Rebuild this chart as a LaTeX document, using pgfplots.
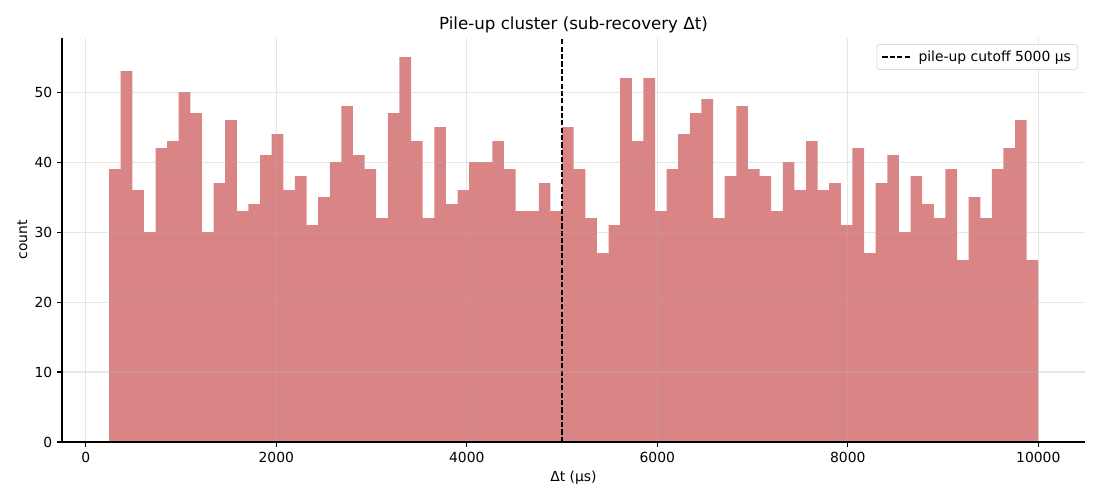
\documentclass[border=0pt]{standalone}
\usepackage{pgfplots}
\pgfplotsset{compat=1.18}
\usepackage{fontspec}
\setmainfont{DejaVu Sans}
\definecolor{barc}{RGB}{217,133,133}
\definecolor{gridc}{RGB}{176,176,176}
\pgfplotsset{linelegend/.style={legend image code/.code={\draw[##1] (0bp,0bp) -- (20bp,0bp); \path[draw=none,fill=none] (-1bp,0bp) rectangle (24bp,0bp);}}}
\pgfplotstableread{
x y
243.9 39
365.9 53
487.8 36
609.8 30
731.7 42
853.7 43
975.6 50
1097.6 47
1219.5 30
1341.5 37
1463.4 46
1585.4 33
1707.3 34
1829.3 41
1951.2 44
2073.2 36
2195.1 38
2317.1 31
2439.0 35
2561.0 40
2682.9 48
2804.9 41
2926.8 39
3048.8 32
3170.7 47
3292.7 55
3414.6 43
3536.6 32
3658.5 45
3780.5 34
3902.4 36
4024.4 40
4146.3 40
4268.3 43
4390.2 39
4512.2 33
4634.1 33
4756.1 37
4878.0 33
5000.0 45
5122.0 39
5243.9 32
5365.9 27
5487.8 31
5609.8 52
5731.7 43
5853.7 52
5975.6 33
6097.6 39
6219.5 44
6341.5 47
6463.4 49
6585.4 32
6707.3 38
6829.3 48
6951.2 39
7073.2 38
7195.1 33
7317.1 40
7439.0 36
7561.0 43
7682.9 36
7804.9 37
7926.8 31
8048.8 42
8170.7 27
8292.7 37
8414.6 41
8536.6 30
8658.5 38
8780.5 34
8902.4 32
9024.4 39
9146.3 26
9268.3 35
9390.2 32
9512.2 39
9634.1 42
9756.1 46
9878.0 26
10000.0 26
}\histdata
\begin{document}
\begin{tikzpicture}[font=\fontsize{10bp}{12bp}\selectfont]
\begin{axis}[
  scale only axis, width=736.56bp, height=290.88bp,
  xmin=-250, xmax=10490, ymin=0, ymax=57.75,
  axis x line*=bottom, axis y line*=left,
  axis line style={line width=0.8bp, black},
  axis on top,
  xtick={0,2000,...,10000}, ytick={0,10,...,50},
  scaled x ticks=false,
  /pgf/number format/1000 sep={},
  /pgf/number format/assume math mode=true,
  tick align=outside, tick pos=left,
  major tick length=3.5bp,
  tick style={line width=0.8bp, black},
  grid=major,
  major grid style={gridc, opacity=0.3, line width=0.8bp},
  xlabel={Δt (μs)}, ylabel={count},
  xlabel style={at={(axis description cs:0.5,-0.0966)}, anchor=base},
  ylabel style={at={(axis description cs:-0.0342,0.5)}, anchor=base, rotate=0},
  title={Pile-up cluster (sub-recovery Δt)},
  title style={at={(axis description cs:0.5,1.0206)}, anchor=base, yshift=-5.8bp, font=\fontsize{12bp}{14bp}\selectfont},
  legend style={at={(axis description cs:1,1)}, anchor=north east, xshift=-5bp, yshift=-4.5bp,
    draw=black!20, rounded corners=2bp, fill=white, fill opacity=0.8, text opacity=1,
    inner xsep=3bp, inner ysep=2.4bp, font=\fontsize{10bp}{12bp}\selectfont},
  legend cell align=left,
]
\addplot[ybar interval, fill=barc, draw=none, forget plot] table[x=x,y=y] {\histdata};
\addplot[black, line width=1bp, dash pattern=on 3.7bp off 1.6bp, linelegend]
  coordinates {(5000,0) (5000,57.75)};
\addlegendentry{pile-up cutoff 5000 μs}
\coordinate (bbsw) at (rel axis cs:0,0);
\coordinate (bbne) at (rel axis cs:1,1);
\end{axis}
\pgfresetboundingbox
\path[use as bounding box] ([shift={(-44.64bp,-41.76bp)}]bbsw) rectangle ([shift={(10.8bp,27.36bp)}]bbne);
\end{tikzpicture}
\end{document}
